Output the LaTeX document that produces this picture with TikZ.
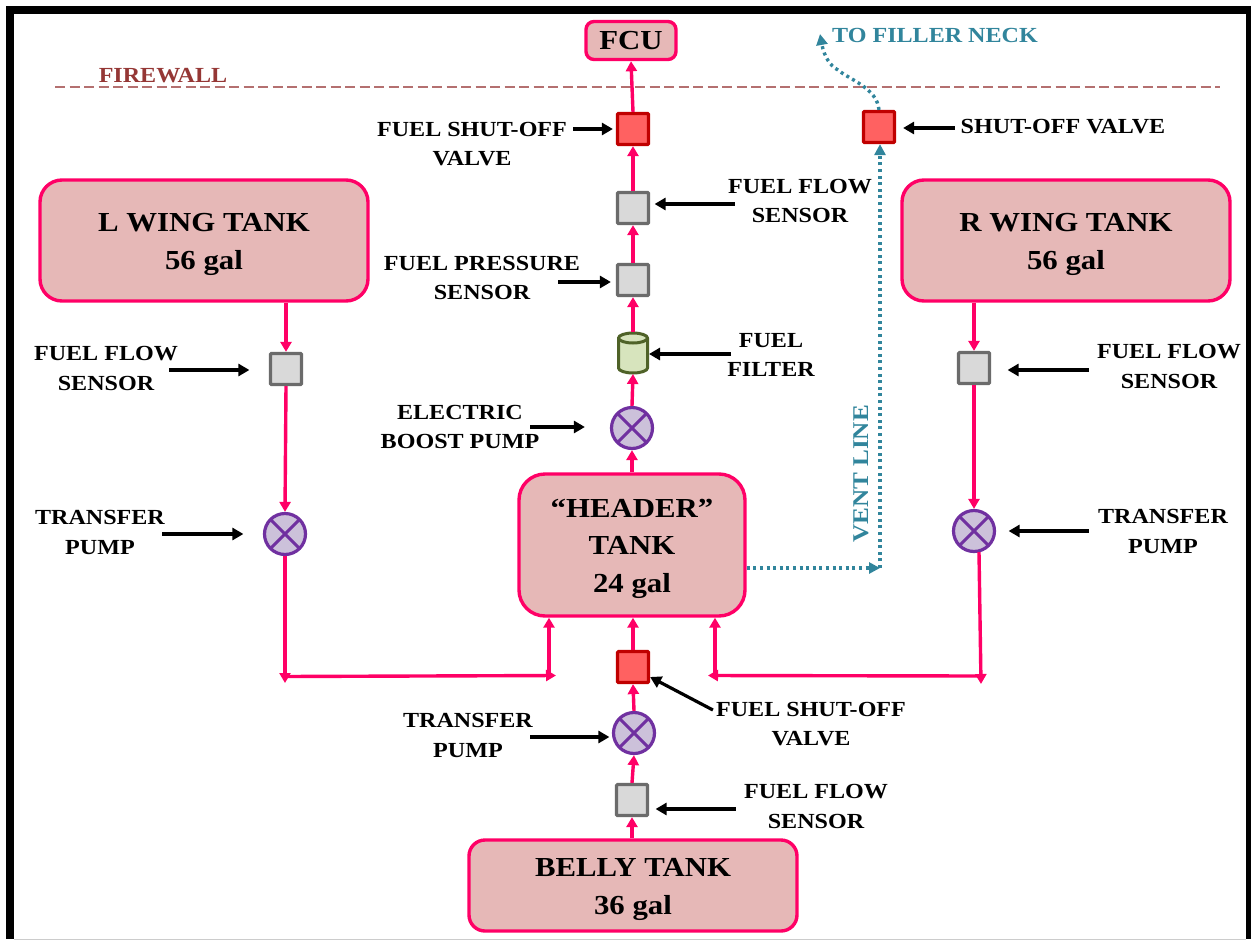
\documentclass[tikz,border=0pt]{standalone}
\usepackage{fontspec}
\setmainfont{Liberation Serif}[BoldFont={Liberation Serif Bold},BoldFeatures={FakeStretch=1.12}]
\usetikzlibrary{arrows.meta,calc}
\definecolor{pinkline}{HTML}{FF0066}
\definecolor{tankfill}{HTML}{E6B8B7}
\definecolor{redline}{HTML}{C00000}
\definecolor{redfill}{HTML}{FF6161}
\definecolor{greyline}{HTML}{6B6B6B}
\definecolor{greyfill}{HTML}{D9D9D9}
\definecolor{purpline}{HTML}{7030A0}
\definecolor{purpfill}{HTML}{CCC1DA}
\definecolor{greenline}{HTML}{4F6228}
\definecolor{greenfill}{HTML}{D7E4BD}
\definecolor{teal}{HTML}{31859C}
\definecolor{brick}{HTML}{953735}
\definecolor{fireline}{HTML}{B47070}
\tikzset{
  x=1pt,y=-1pt,
  tank/.style={draw=pinkline,fill=tankfill,line width=3.4pt,rounded corners=22pt,inner sep=0pt,align=center,font=\fontsize{27.5}{37.5}\selectfont\bfseries,text=black},
  valvebox/.style={draw=redline,fill=redfill,line width=3.2pt,minimum size=31pt,inner sep=0pt,rounded corners=1pt},
  sensorbox/.style={draw=greyline,fill=greyfill,line width=3.2pt,minimum size=31pt,inner sep=0pt,rounded corners=1pt},
  pumpnode/.style={circle,draw=purpline,fill=purpfill,line width=3.2pt,minimum size=41pt,inner sep=0pt,
    path picture={\draw[purpline,line width=3pt] (path picture bounding box.south west)--(path picture bounding box.north east) (path picture bounding box.north west)--(path picture bounding box.south east);}},
  filternode/.style={minimum width=32pt,minimum height=42pt,inner sep=0pt,outer sep=0pt},
  filterdraw/.style={draw=greenline,fill=greenfill,line width=3pt,line join=round},
  capellipse/.style={x radius=14.5pt,y radius=5pt},
  lbl/.style={align=center,inner sep=0pt,font=\fontsize{21.5}{29.5}\selectfont\bfseries,text=black},
  flow/.style={draw=pinkline,line width=3.4pt,-{Triangle[length=10pt,width=11pt]}},
  callout/.style={draw=black,line width=3.2pt,-{Triangle[length=11pt,width=12pt]}},
  vent/.style={draw=teal,line width=3.4pt,dash pattern=on 3pt off 3.6pt,-{Triangle[length=11pt,width=11pt]}},
}
\newcommand\callto[5]{\draw[callout] ($(#1 |- #2)+(#3,#5)$) -- ($(#2)+(#4,#5)$);}
\newcommand\tanktop{\rule{0pt}{26pt}}
\begin{document}
\begin{tikzpicture}
\useasboundingbox (0,0) rectangle (1251,940);
\fill[white] (0,0) rectangle (1251,940);
% frame
\fill[black] (6,6) rectangle (1251,14);
\fill[black] (6,6) rectangle (14,939);
\fill[black] (1246,6) rectangle (1251,939);
\draw[black!20,line width=1pt] (14,939) -- (1246,939);
% firewall
\coordinate (fwa) at (55,87);
\coordinate (fwb) at (1220,87);
\draw[fireline,line width=1.5pt,dash pattern=on 10pt off 4.5pt] (fwa) -- (fwb);
\node[inner sep=0pt,text=brick,font=\fontsize{21.5}{24}\selectfont\bfseries] (fw) at (163,76) {FIREWALL};
\node[inner sep=0pt,text=teal,font=\fontsize{21.5}{24}\selectfont\bfseries] (filler) at (935,35) {TO FILLER NECK};
\node[inner sep=0pt,text=teal,rotate=90,font=\fontsize{22.5}{24}\selectfont\bfseries] (ventl) at (861,474) {VENT LINE};
% tanks
\node[tank,minimum width=90pt,minimum height=38pt,rounded corners=8pt] (fcu) at (631,40.5) {FCU};
\node[tank,minimum width=328pt,minimum height=121pt] (lw) at (204,240.5) {\tanktop L WING TANK\\56 gal};
\node[tank,minimum width=328pt,minimum height=121pt] (rw) at (1066,240.5) {\tanktop R WING TANK\\56 gal};
\node[tank,minimum width=226pt,minimum height=142pt,rounded corners=26pt] (hdr) at (632,545) {\tanktop “HEADER”\\TANK\\24 gal};
\node[tank,minimum width=328pt,minimum height=91pt,rounded corners=16pt] (bly) at (633,885.5) {\tanktop BELLY TANK\\36 gal};
% components
\node[valvebox] (v1) at (633,129) {};
\node[valvebox] (v2) at (879,127) {};
\node[valvebox] (v3) at (633,667) {};
\node[sensorbox] (s1) at (633,208) {};
\node[sensorbox] (s2) at (633,280) {};
\node[sensorbox] (s3) at (286,369) {};
\node[sensorbox] (s4) at (974,368) {};
\node[sensorbox] (s5) at (632,800) {};
\node[filternode] (flt) at (633,353) {};
\draw[filterdraw] ($(flt.center)+(-14.5,-15)$) arc[start angle=180,end angle=0,capellipse] -- ($(flt.center)+(14.5,15)$) arc[start angle=0,end angle=-180,capellipse] -- cycle;
\draw[filterdraw,fill=none] ($(flt.center)+(-14.5,-15)$) arc[start angle=180,end angle=360,capellipse];
\node[pumpnode] (p1) at (632,428) {};
\node[pumpnode] (p2) at (285,534) {};
\node[pumpnode] (p3) at (974,531) {};
\node[pumpnode] (p4) at (634,733) {};
% flow lines
\draw[flow] (v1.north) -- (fcu.south);
\draw[flow] (s1.north) -- (v1.south);
\draw[flow] (s2.north) -- (s1.south);
\draw[flow] (flt.north) -- (s2.south);
\draw[flow] (p1.north) -- (flt.south);
\draw[flow] (hdr.north -| p1.south) -- (p1.south);
\draw[flow] (lw.south -| s3.north) -- (s3.north);
\draw[flow] (s3.south) -- (p2.north);
\draw[flow] (rw.south -| s4.north) -- (s4.north);
\draw[flow] (s4.south) -- (p3.north);
\coordinate (jl) at (285,676.5);
\coordinate (jlb) at (285,683);
\coordinate (jlr) at (556,675.5);
\coordinate (jlu) at (549,675.5);
\coordinate (jr) at (981,676);
\coordinate (jrb) at (981,684);
\coordinate (jrl) at (708,675.5);
\coordinate (jru) at (715,675.5);
\draw[flow] (p2.south) -- (jlb);
\draw[flow] (jl) -- (jlr);
\draw[flow] (jlu) -- (jlu |- hdr.south);
\draw[flow] ($(p3.south)+(5,-1)$) -- (jrb);
\draw[flow] (jr) -- (jrl);
\draw[flow] (jru) -- (jru |- hdr.south);
\draw[flow] (v3.north) -- (v3.north |- hdr.south);
\draw[flow] (p4.north) -- (v3.south);
\draw[flow] (s5.north) -- (p4.south);
\draw[flow] (s5.south |- bly.north) -- (s5.south);
% vent lines
\coordinate (vc) at (880,568);
\coordinate (vm) at (838,70);
\coordinate (ftip) at (820,34);
\draw[vent] (hdr.east |- vc) -- (vc);
\draw[vent] (vc) -- (vc |- v2.south);
\draw[vent] (v2.north) .. controls (877,88) and (850,80) .. (vm) .. controls (830,66) and (824,56) .. (ftip);
% labels and callouts
\node[lbl] (a1) at (472,144) {FUEL SHUT-OFF\\VALVE};
\callto{a1.east}{v1.west}{6}{-3}{0}
\node[lbl] (a2) at (800,201) {FUEL FLOW\\SENSOR};
\callto{a2.west}{s1.east}{7}{4.5}{-4}
\node[lbl] (a3) at (482,278) {FUEL PRESSURE\\SENSOR};
\callto{a3.east}{s2.west}{-22}{-5}{2}
\node[lbl] (a4) at (771,355) {FUEL\\FILTER};
\callto{a4.west}{flt.east}{4}{0}{1}
\node[lbl] (a5) at (460,427) {ELECTRIC\\BOOST PUMP};
\callto{a5.east}{p1.west}{-9}{-25}{-1}
\node[lbl] (a6) at (106,368.5) {FUEL FLOW\\SENSOR};
\callto{a6.east}{s3.west}{-9}{-19.5}{1}
\node[lbl] (a7) at (100,532.5) {TRANSFER\\PUMP};
\callto{a7.east}{p2.west}{-3}{-19.5}{0}
\node[lbl] (a8) at (1169,366.5) {FUEL FLOW\\SENSOR};
\callto{a8.west}{s4.east}{-8}{16.5}{2}
\node[lbl] (a9) at (1163,531.5) {TRANSFER\\PUMP};
\callto{a9.west}{p3.east}{-9}{12.5}{0}
\node[lbl] (a10) at (1063,127) {SHUT-OFF VALVE};
\callto{a10.west}{v2.east}{-6}{7}{1}
\node[lbl] (a11) at (468,735.5) {TRANSFER\\PUMP};
\callto{a11.east}{p4.west}{-3}{-2.5}{4}
\node[lbl] (a12) at (811,724) {FUEL SHUT-OFF\\VALVE};
\draw[callout] ($(a12.west)+(-3,-14)$) -- ($(v3.east)+(0,10)$);
\node[lbl] (a13) at (816,806.5) {FUEL FLOW\\SENSOR};
\callto{a13.west}{s5.east}{-8}{6.5}{9}
\end{tikzpicture}
\end{document}
